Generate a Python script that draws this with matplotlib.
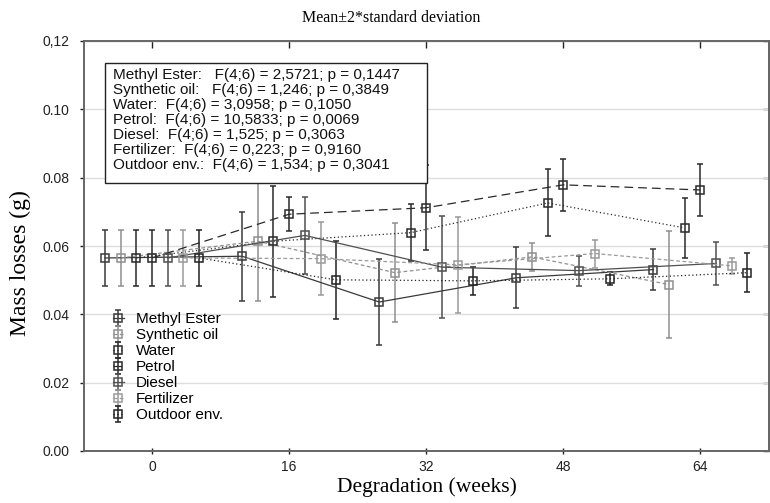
import matplotlib
matplotlib.use('Agg')
import matplotlib.pyplot as plt
from matplotlib.patches import Rectangle
from matplotlib.ticker import FixedLocator, FixedFormatter

# --- data (mass loss in g, error = 2*SD) ---
weeks = [0, 16, 32, 48, 64]
series = ["Methyl Ester", "Synthetic oil", "Water", "Petrol",
          "Diesel", "Fertilizer", "Outdoor env."]

methyl_ester = [0.0565, 0.0570, 0.0436, 0.0507, 0.0531]
synthetic_oil = [0.0565, 0.0614, 0.0522, 0.0568, 0.0487]
water = [0.0565, 0.0614, 0.0639, 0.0726, 0.0653]
petrol = [0.0565, 0.0693, 0.0712, 0.0779, 0.0764]
diesel = [0.0565, 0.0631, 0.0538, 0.0528, 0.0549]
fertilizer = [0.0565, 0.0563, 0.0545, 0.0578, 0.0542]
outdoor = [0.0565, 0.0501, 0.0498, 0.0504, 0.0522]

methyl_ester_err = [0.0081, 0.0130, 0.0127, 0.0089, 0.0059]
synthetic_oil_err = [0.0081, 0.0176, 0.0144, 0.0042, 0.0156]
water_err = [0.0081, 0.0162, 0.0083, 0.0098, 0.0087]
petrol_err = [0.0081, 0.0050, 0.0124, 0.0077, 0.0075]
diesel_err = [0.0081, 0.0113, 0.0150, 0.0044, 0.0062]
fertilizer_err = [0.0081, 0.0106, 0.0140, 0.0041, 0.0023]
outdoor_err = [0.0081, 0.0115, 0.0041, 0.0019, 0.0057]

f_stats = ["2,5721", "1,246", "3,0958", "10,5833", "1,525", "0,223", "1,534"]
p_vals = ["0,1447", "0,3849", "0,1050", "0,0069", "0,3063", "0,9160", "0,3041"]

y_ticks = [0.00, 0.02, 0.04, 0.06, 0.08, 0.10, 0.12]
y_ticklabels = ["0.00", "0.02", "0.04", "0.06", "0.08", "0.10", "0,12"]

means = [methyl_ester, synthetic_oil, water, petrol, diesel, fertilizer, outdoor]
errs = [methyl_ester_err, synthetic_oil_err, water_err, petrol_err,
        diesel_err, fertilizer_err, outdoor_err]

colors = ['#3a3a3a', '#909090', '#2a2a2a', '#2a2a2a', '#505050', '#9a9a9a', '#222222']
styles = ['-', (0, (3, 2)), (0, (1, 2)), (0, (7, 4)), '-', (0, (3, 2)), (0, (1, 2))]
gaps = [3, 3, 2, 2, 2, 2, 2]
step = 1.83  # horizontal jitter between series, in weeks
spine_col = '#666666'

fig = plt.figure(figsize=(7.7, 5.03), dpi=100)
ax = fig.add_axes([83.5 / 770, 52 / 503, 685.5 / 770, 410 / 503])

handles = []
for k, name in enumerate(series):
    xs = [w + (k - 3) * step for w in weeks]
    h = ax.errorbar(xs, means[k], yerr=errs[k], fmt='s', linestyle=styles[k],
                    color=colors[k], lw=0.9, mfc='none', mec=colors[k], mew=1.1,
                    ms=6, elinewidth=1.1, capsize=2.5, capthick=1.0,
                    label=name, zorder=3)
    handles.append(h)

ax.set_xlim(-8, 72)
ax.set_ylim(0, 0.12)
ax.set_xticks(weeks)
ax.yaxis.set_major_locator(FixedLocator(y_ticks))
ax.yaxis.set_major_formatter(FixedFormatter(y_ticklabels))
ax.grid(axis='y', color='#dddddd', lw=1)
ax.set_axisbelow(True)
for s in ax.spines.values():
    s.set_color(spine_col)
    s.set_linewidth(1.4)
ax.tick_params(axis='y', direction='out', length=3, width=1, pad=7,
               labelsize=10, colors='#222222')
ax.tick_params(axis='x', direction='inout', length=5, width=1, pad=4,
               labelsize=10, colors='#222222')
for lab in ax.get_xticklabels() + ax.get_yticklabels():
    lab.set_family('Liberation Sans')

# inward ticks on the top and right frame
top = ax.secondary_xaxis('top')
top.set_xticks(weeks)
top.tick_params(direction='in', length=5, width=1, labeltop=False, colors='#222222')
top.spines['top'].set_color(spine_col)
right = ax.secondary_yaxis('right')
right.set_yticks(y_ticks)
right.tick_params(direction='in', length=4, width=1, labelright=False, colors='#222222')
right.spines['right'].set_color(spine_col)

# stats box
ax.add_patch(Rectangle((0.0314, 0.654), 0.4697, 0.292, transform=ax.transAxes,
                       fc='white', ec='#222222', lw=1.0, zorder=5))
for k, name in enumerate(series):
    line = f"{name}:{' ' * gaps[k]}F(4;6) = {f_stats[k]}; p = {p_vals[k]}"
    ax.text(0.0426, 0.917 - k * 0.0366, line, transform=ax.transAxes,
            fontsize=11, family='Liberation Sans', va='center', ha='left',
            color='#111111', zorder=6)

leg = ax.legend(handles=handles, loc='upper left', bbox_to_anchor=(0.043, 0.338),
                frameon=False, handlelength=0.7, handletextpad=0.8,
                labelspacing=0.13, borderpad=0, borderaxespad=0,
                prop={'family': 'Liberation Sans', 'size': 11})

fig.text(391 / 770, 1 - 18 / 503, "Mean±2*standard deviation", ha='center',
         va='center', fontsize=11.5, family='Liberation Serif')
fig.text(20 / 770, 1 - 263 / 503, "Mass losses (g)", rotation=90, ha='center',
         va='center', fontsize=17, family='Liberation Serif')
fig.text(427 / 770, 1 - 487 / 503, "Degradation (weeks)", ha='center',
         va='center', fontsize=15.5, family='Liberation Serif')

fig.savefig('out.png', dpi=100)
